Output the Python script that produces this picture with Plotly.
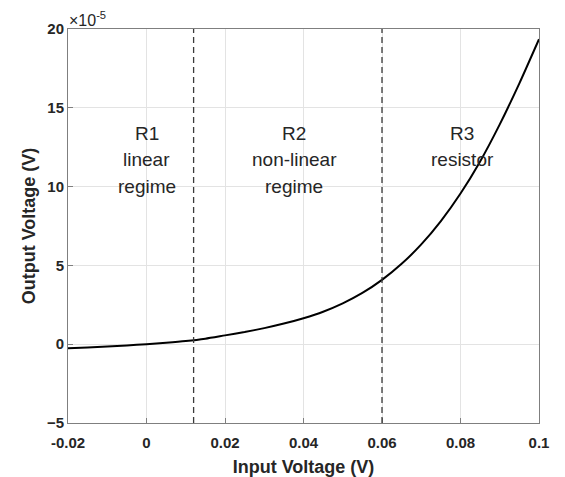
import plotly.graph_objects as go

# Data (output voltage in units of 1e-5 V)
x_in = [-0.02, -0.015, -0.01, -0.005, 0.0, 0.005, 0.01, 0.015, 0.02, 0.025, 0.03, 0.035, 0.04,
        0.045, 0.05, 0.055, 0.06, 0.065, 0.07, 0.075, 0.08, 0.085, 0.09, 0.095, 0.1]
y_out = [-0.26, -0.21, -0.15, -0.08, 0.0, 0.09, 0.2, 0.35, 0.56, 0.77, 1.02, 1.31, 1.65,
         2.06, 2.59, 3.25, 4.08, 5.1, 6.33, 7.81, 9.56, 11.6, 13.95, 16.55, 19.35]
boundaries = [0.012, 0.06]
x_ticks = [-0.02, 0, 0.02, 0.04, 0.06, 0.08, 0.1]
x_ticklabels = ["-0.02", "0", "0.02", "0.04", "0.06", "0.08", "0.1"]
y_ticks = [-5, 0, 5, 10, 15, 20]
region_x = [0.0, 0.0377, 0.0805]
region_lines = [["R1", "linear", "regime"], ["R2", "non-linear", "regime"], ["R3", "resistor"]]
line_y = [13.4, 11.7, 10.0]

FONT = "Liberation Sans, Arial, sans-serif"

fig = go.Figure()
fig.add_trace(go.Scatter(x=x_in, y=y_out, mode="lines",
                         line=dict(color="black", width=2, shape="spline", smoothing=0.6),
                         showlegend=False, hoverinfo="skip"))

for b in boundaries:
    fig.add_shape(type="line", x0=b, x1=b, y0=-5, y1=20, xref="x", yref="y",
                  line=dict(color="#3a3a3a", width=1.3, dash="6px,4px"))

font_txt = dict(family=FONT, size=19, color="#262626")
for rx, lines in zip(region_x, region_lines):
    for txt, ly in zip(lines, line_y):
        fig.add_annotation(x=rx, y=ly, text=txt, showarrow=False, xref="x", yref="y",
                           font=font_txt, xanchor="center", yanchor="middle")

fig.add_annotation(x=0, y=1, xref="paper", yref="paper", xanchor="left", yanchor="bottom",
                   text="×10<sup>-5</sup>", showarrow=False, yshift=-2, xshift=-1,
                   font=dict(family=FONT, size=16, color="#262626"))

axis_common = dict(showline=True, linecolor="#7f7f7f", linewidth=1, mirror=True,
                   ticks="inside", ticklen=5, tickcolor="#7f7f7f",
                   showgrid=True, gridcolor="#e3e3e3", gridwidth=1, zeroline=False,
                   automargin=False,
                   tickfont=dict(family=FONT, size=15, color="#262626", weight="bold"))

fig.update_xaxes(range=[-0.02, 0.1], tickvals=x_ticks, ticktext=x_ticklabels,
                 ticklabelstandoff=6,
                 title=dict(text="<b>Input Voltage (V)</b>", standoff=14,
                            font=dict(family=FONT, size=18, color="#262626")),
                 **axis_common)
fig.update_yaxes(range=[-5, 20], tickvals=y_ticks,
                 title=dict(text="<b>Output Voltage (V)</b>", standoff=6,
                            font=dict(family=FONT, size=18, color="#262626")),
                 **axis_common)

fig.update_layout(width=565, height=477, margin=dict(l=68, r=26, t=29, b=54),
                  plot_bgcolor="white", paper_bgcolor="white")

# remove the browser's default 8px body margin so the figure fills the window
fig.write_html("out.html", config={"displayModeBar": False},
               post_script="document.body.style.margin='0';")
